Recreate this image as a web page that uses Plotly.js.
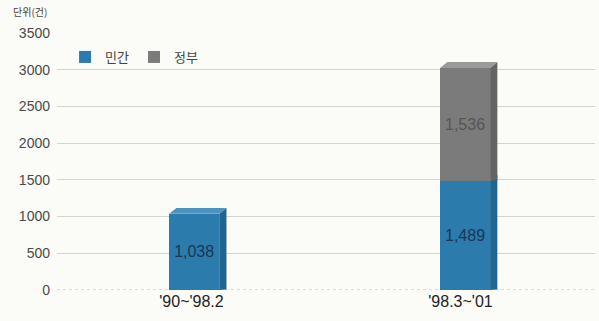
<!DOCTYPE html>
<html><head><meta charset="utf-8">
<script src="https://cdn.plot.ly/plotly-3.0.1.min.js"></script>
<style>html,body{margin:0;padding:0;background:#fbfbf8;}</style>
</head><body>
<div id="chart" style="width:599px;height:321px;"></div>
<script>
const categories = ["'90~'98.2", "'98.3~'01"];
const privateValues = [1038, 1489];   // 민간
const governmentValues = [0, 1536];   // 정부
const yTicks = [0, 500, 1000, 1500, 2000, 2500, 3000, 3500];

const fmt = v => v ? v.toLocaleString('en-US') : '';
const barWidth = 0.186;
const depthX = 0.027;   // 3D depth in category units
const depthY = 80;      // 3D depth in value units
const xPos = [0.01, 1.017];

const traces = [
  {type:'bar', name:'민간', x:xPos, y:privateValues, width:barWidth,
   marker:{color:'#2b7cac', line:{width:0}},
   text:privateValues.map(fmt), textposition:'inside', insidetextanchor:'middle',
   textfont:{family:'Liberation Sans, Arial', size:16, color:'#1a3556'}, hoverinfo:'none'},
  {type:'bar', name:'정부', x:xPos, y:governmentValues, width:barWidth,
   marker:{color:'#7b7b7b', line:{width:0}},
   text:governmentValues.map(fmt), textposition:'inside', insidetextanchor:'middle',
   textfont:{family:'Liberation Sans, Arial', size:16, color:'#555555'}, hoverinfo:'none'}
];

const shapes = [];
function poly(pts, color){
  return {type:'path', xref:'x', yref:'y', layer:'above', line:{width:0}, fillcolor:color,
    path:'M'+pts.map(p=>p[0]+','+p[1]).join(' L')+' Z'};
}
categories.forEach((c,i)=>{
  const l=xPos[i]-barWidth/2, r=xPos[i]+barWidth/2;
  const segs=[[0,privateValues[i],'#1f6791'],[privateValues[i],privateValues[i]+governmentValues[i],'#646464']];
  segs.forEach(([b,t,col])=>{
    if(t>b){
      shapes.push(poly([[r,b],[r,t],[r+depthX,t+depthY],[r+depthX,b+depthY*0.1]],col));
    }
  });
  const top=privateValues[i]+governmentValues[i];
  const topCol = governmentValues[i]>0 ? '#9a9a9a' : '#4d93be';
  shapes.push(poly([[l,top],[r,top],[r+depthX,top+depthY],[l+depthX,top+depthY]],topCol));
});

const layout = {
  width:599, height:321,
  margin:{l:57, r:4, t:33, b:31},
  paper_bgcolor:'#fbfbf8', plot_bgcolor:'#fbfbf8',
  barmode:'stack', bargap:0,
  showlegend:true,
  legend:{orientation:'h', traceorder:'normal', x:0.015, y:0.965, xanchor:'left', yanchor:'top',
    font:{family:'Noto Sans CJK KR', size:13, color:'#444'}, bgcolor:'rgba(0,0,0,0)',
    itemwidth:30, tracegroupgap:0},
  xaxis:{range:[-0.5,1.5], tickvals:[0,1], ticktext:categories, showgrid:false, zeroline:false,
    showline:false, ticks:'', tickfont:{family:'Liberation Sans, Arial', size:16, color:'#222'}},
  yaxis:{range:[0,3500], tickvals:yTicks, ticktext:yTicks.map(String), showgrid:true,
    gridcolor:'#d4d4cf', gridwidth:1, zeroline:false, showline:false, ticks:'',
    tickfont:{family:'Liberation Sans, Arial', size:14, color:'#4a4a4a'}, ticklabelstandoff:6},
  shapes: shapes.concat([{type:'line', xref:'paper', yref:'y', x0:0, x1:1, y0:0, y1:0,
    line:{color:'#bbb', width:1, dash:'dot'}, layer:'below'}]),
  annotations:[{text:'단위(건)', xref:'paper', yref:'paper', x:-0.085, y:1.0, yshift:22,
    xanchor:'left', yanchor:'middle', showarrow:false,
    font:{family:'Noto Sans CJK KR', size:10, color:'#444'}}]
};
Plotly.newPlot('chart', traces, layout, {displayModeBar:false, staticPlot:true});
</script>
</body></html>
